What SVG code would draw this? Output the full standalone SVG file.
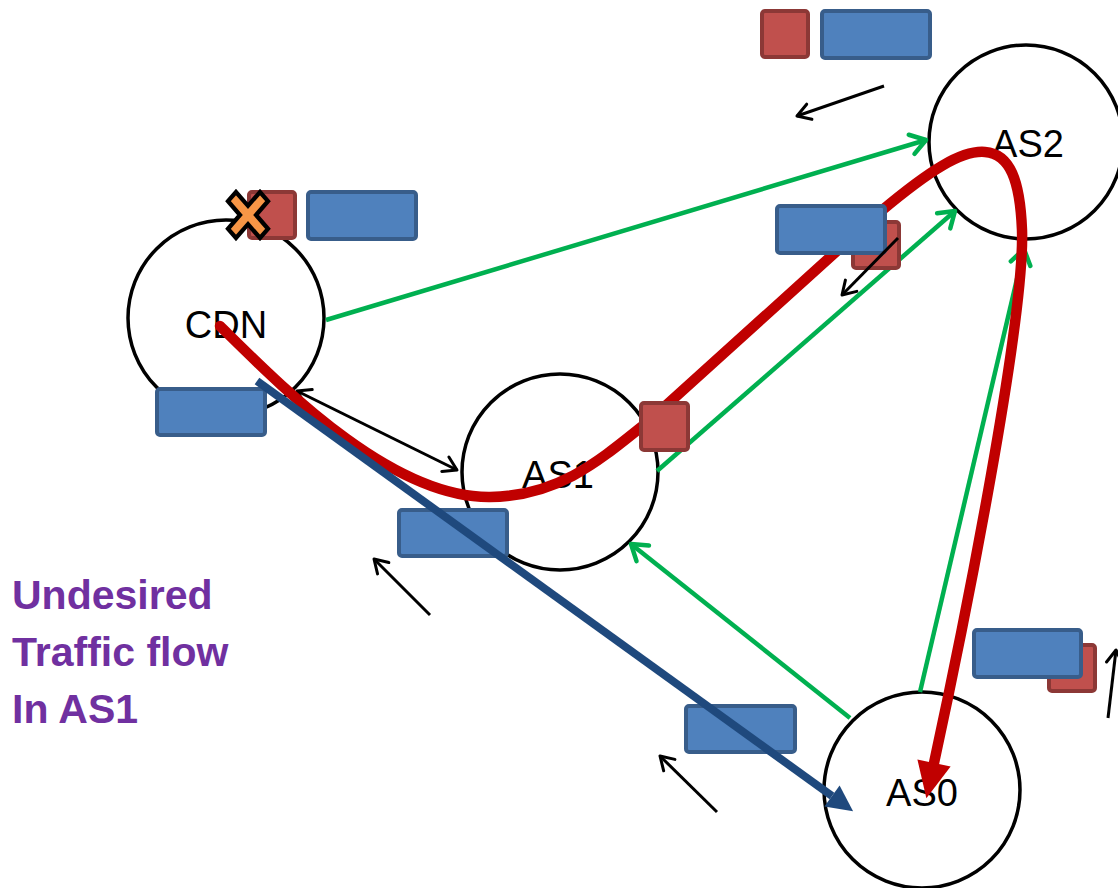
<svg xmlns="http://www.w3.org/2000/svg" width="1118" height="888" viewBox="0 0 1118 888">
<style>
.node{fill:#fff;stroke:#000;stroke-width:3.5}
.lbl{font-family:"Liberation Sans",Arial,sans-serif;font-size:38px;fill:#000;text-anchor:middle}
.bb{fill:#4F81BD;stroke:#385D8A;stroke-width:4}
.rb{fill:#C0504D;stroke:#8C3836;stroke-width:4}
.blk{fill:none;stroke:#000;stroke-width:3}
.grn{fill:none;stroke:#00B050;stroke-width:4.5}
.note{font-family:"Liberation Sans",Arial,sans-serif;font-size:41px;font-weight:bold;fill:#7030A0}
</style>
<defs>
<marker id="mb" markerUnits="userSpaceOnUse" markerWidth="24" markerHeight="24" refX="16" refY="12" orient="auto" overflow="visible">
<path d="M3,4 L16,12 L3,20" fill="none" stroke="#000" stroke-width="3" stroke-linecap="round" stroke-linejoin="round"/>
</marker>
<marker id="mbs" markerUnits="userSpaceOnUse" markerWidth="24" markerHeight="24" refX="8" refY="12" orient="auto-start-reverse" overflow="visible">
<path d="M-5,4 L8,12 L-5,20" fill="none" stroke="#000" stroke-width="3" stroke-linecap="round" stroke-linejoin="round"/>
</marker>
<marker id="mg" markerUnits="userSpaceOnUse" markerWidth="30" markerHeight="30" refX="18" refY="15" orient="auto" overflow="visible">
<path d="M3,5 L18,15 L3,25" fill="none" stroke="#00B050" stroke-width="4.5" stroke-linecap="round" stroke-linejoin="round"/>
</marker>
<marker id="mn" markerUnits="userSpaceOnUse" markerWidth="30" markerHeight="30" refX="0" refY="13" orient="auto" overflow="visible">
<path d="M0,0 L26,13 L0,26 Z" fill="#1F497D"/>
</marker>
<marker id="mr" markerUnits="userSpaceOnUse" markerWidth="40" markerHeight="40" refX="0" refY="17" orient="auto" overflow="visible">
<path d="M0,0 L36,17 L0,34 Z" fill="#C00000"/>
</marker>
</defs>
<rect width="1118" height="888" fill="#fff"/>
<g id="node-cdn"><circle class="node" cx="226" cy="318" r="98"/><text class="lbl" x="226" y="338">CDN</text></g>
<g id="node-as1"><circle class="node" cx="560" cy="472" r="98"/><text class="lbl" x="558" y="488">AS1</text></g>
<g id="node-as2"><circle class="node" cx="1026" cy="142" r="97"/><text class="lbl" x="1028" y="157">AS2</text></g>
<g id="node-as0"><circle class="node" cx="922" cy="790" r="98"/><text class="lbl" x="922" y="806">AS0</text></g>
<g id="connectors">
<path class="grn" d="M326,320 L926,140" marker-end="url(#mg)"/>
<path class="grn" d="M657,471 L955,211" marker-end="url(#mg)"/>
<path class="grn" d="M850,718 L631,544" marker-end="url(#mg)"/>
<path class="grn" d="M920,692 L1024,249" marker-end="url(#mg)"/>
<path class="blk" d="M297,391 L457,470" marker-start="url(#mbs)" marker-end="url(#mb)"/>
<path d="M220,326 C280,385 390,498 490,497 C560,496 600,460 650,420 L880,212 C930,170 962,150 985,152 C1010,154 1020,180 1022,230 C1025,320 965,620 934,763" fill="none" stroke="#C00000" stroke-width="10.5" stroke-linecap="round" marker-end="url(#mr)"/>
</g>
<g id="boxes">
<rect class="rb" x="762" y="11" width="46" height="46" rx="3"/>
<rect class="bb" x="822" y="11" width="108" height="47" rx="3"/>
<rect class="rb" x="249" y="192" width="46" height="46" rx="3"/>
<rect class="bb" x="308" y="192" width="108" height="47" rx="3"/>
<rect class="bb" x="157" y="389" width="108" height="46" rx="3"/>
<rect class="bb" x="399" y="510" width="108" height="46" rx="3"/>
<rect class="rb" x="641" y="403" width="47" height="47" rx="3"/>
<rect class="rb" x="853" y="222" width="46" height="46" rx="3"/>
<rect class="bb" x="777" y="206" width="108" height="47" rx="3"/>
<rect class="bb" x="686" y="706" width="109" height="46" rx="3"/>
<rect class="rb" x="1049" y="645" width="46" height="46" rx="3"/>
<rect class="bb" x="974" y="630" width="107" height="47" rx="3"/>
</g>
<g id="flow">
<path d="M257,381 L832,796" fill="none" stroke="#1F497D" stroke-width="8" marker-end="url(#mn)"/>
</g>
<g id="small-arrows">
<path class="blk" d="M884,86 L797,116" marker-end="url(#mb)"/>
<path class="blk" d="M898,238 L842,295" marker-end="url(#mb)"/>
<path class="blk" d="M430,615 L374,559" marker-end="url(#mb)"/>
<path class="blk" d="M717,812 L660,756" marker-end="url(#mb)"/>
<path class="blk" d="M1108,718 L1116,650" marker-end="url(#mb)"/>
</g>
<g id="x-mark" transform="translate(248,215) scale(1,1.15)">
<polygon points="-20,-12 -12,-20 0,-8 12,-20 20,-12 8,0 20,12 12,20 0,8 -12,20 -20,12 -8,0" fill="#F79646" stroke="#000" stroke-width="4" stroke-linejoin="miter"/>
</g>
<g id="note">
<text class="note" x="12" y="609">Undesired</text>
<text class="note" x="12" y="666">Traffic flow</text>
<text class="note" x="12" y="723">In AS1</text>
</g>
</svg>
